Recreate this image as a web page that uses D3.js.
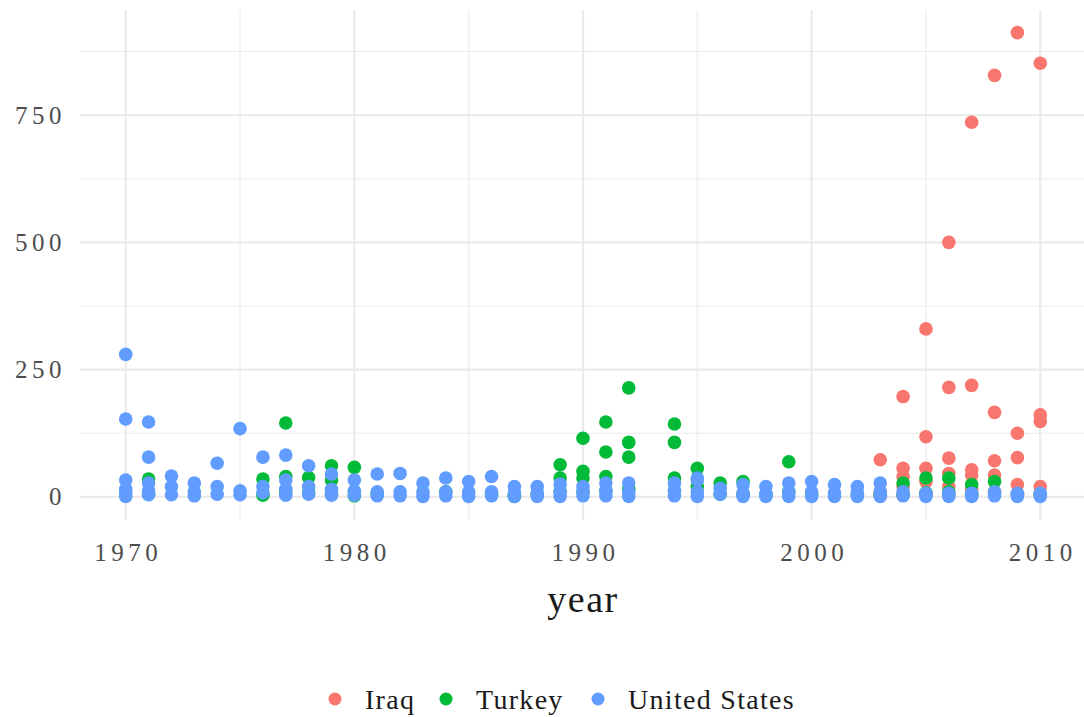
<!DOCTYPE html>
<html>
<head>
<meta charset="utf-8">
<script src="https://cdn.jsdelivr.net/npm/d3@7"></script>
<style>
  body { margin: 0; background: #fff; }
  text { font-family: "Liberation Serif", "DejaVu Serif", serif; }
</style>
</head>
<body>
<div id="chart"></div>
<script>
// data: [year, value]
var countries = ["Iraq", "Turkey", "United States"];
var colors = ["#F8766D", "#00BA38", "#619CFF"];

var iraq = [
  [2003,73],[2003,10],[2003,2],
  [2004,197],[2004,56],[2004,40],[2004,20],[2004,3],
  [2005,330],[2005,118],[2005,56],[2005,30],[2005,5],
  [2006,500],[2006,215],[2006,76],[2006,46],[2006,20],[2006,4],
  [2007,736],[2007,219],[2007,53],[2007,43],[2007,15],[2007,2],
  [2008,828],[2008,166],[2008,71],[2008,43],[2008,10],
  [2009,912],[2009,125],[2009,77],[2009,24],[2009,5],
  [2010,852],[2010,161],[2010,148],[2010,20],[2010,5]
];

var turkey = [
  [1971,35],[1971,5],[1976,35],[1976,3],[1977,145],[1977,40],[1977,10],
  [1978,38],[1978,8],[1979,61],[1979,33],[1979,5],[1980,58],[1980,10],[1980,2],
  [1981,5],[1984,10],[1986,5],[1987,4],[1987,1],[1988,5],
  [1989,63],[1989,37],[1989,10],[1990,115],[1990,50],[1990,37],[1990,10],
  [1991,147],[1991,88],[1991,40],[1991,12],[1992,214],[1992,107],[1992,78],[1992,15],
  [1994,143],[1994,107],[1994,37],[1994,12],[1995,56],[1995,20],
  [1996,27],[1996,5],[1997,30],[1997,5],[1998,5],[1999,69],[1999,10],
  [2000,5],[2002,3],[2003,5],[2004,27],[2004,4],[2005,37],[2005,8],
  [2006,37],[2006,10],[2007,24],[2007,5],[2008,30],[2008,8],[2009,5],[2010,5]
];

var unitedStates = [
  [1970,280],[1970,153],[1970,33],[1970,15],[1970,7],[1970,1],
  [1971,147],[1971,78],[1971,27],[1971,12],[1971,4],
  [1972,41],[1972,20],[1972,4],[1973,27],[1973,10],[1973,2],
  [1974,66],[1974,20],[1974,5],[1975,134],[1975,12],[1975,4],
  [1976,78],[1976,20],[1976,8],[1977,82],[1977,33],[1977,15],[1977,3],
  [1978,61],[1978,20],[1978,5],[1979,45],[1979,15],[1979,3],
  [1980,33],[1980,12],[1980,3],[1981,45],[1981,10],[1981,2],
  [1982,46],[1982,10],[1982,2],[1983,27],[1983,10],[1983,1],
  [1984,37],[1984,10],[1984,2],[1985,30],[1985,10],[1985,1],
  [1986,40],[1986,10],[1986,2],[1987,20],[1987,8],[1987,1],
  [1988,20],[1988,8],[1988,1],[1989,25],[1989,10],[1989,1],
  [1990,20],[1990,10],[1990,2],[1991,27],[1991,12],[1991,2],
  [1992,27],[1992,10],[1992,1],[1994,27],[1994,12],[1994,2],
  [1995,37],[1995,33],[1995,10],[1995,1],[1996,17],[1996,5],
  [1997,24],[1997,8],[1997,1],[1998,20],[1998,5],[1998,1],
  [1999,27],[1999,10],[1999,1],[2000,30],[2000,10],[2000,1],
  [2001,24],[2001,8],[2001,1],[2002,20],[2002,8],[2002,1],
  [2003,27],[2003,10],[2003,1],[2004,10],[2004,2],[2005,7],[2005,1],
  [2006,7],[2006,1],[2007,7],[2007,1],[2008,10],[2008,2],
  [2009,7],[2009,1],[2010,7],[2010,1]
];

var xMajor = [1970, 1980, 1990, 2000, 2010];
var xMinor = [1975, 1985, 1995, 2005];
var yMajor = [0, 250, 500, 750];
var yMinor = [125, 375, 625, 875];

var W = 1084, H = 717;
var panel = {left: 80, right: 1086, top: 10, bottom: 520};

var svg = d3.select("#chart")
  .append("svg")
    .attr("width", W)
    .attr("height", H);

var x = d3.scaleLinear()
  .domain([1968, 2012])
  .range([panel.left, panel.right]);

var y = d3.scaleLinear()
  .domain([-45.5, 956.5])
  .range([panel.bottom, panel.top]);

// grid
var grid = svg.append("g");
grid.selectAll(".ymin").data(yMinor).enter().append("line")
  .attr("x1", panel.left).attr("x2", panel.right)
  .attr("y1", d => y(d)).attr("y2", d => y(d))
  .attr("stroke", "#EBEBEB").attr("stroke-width", 1.1);
grid.selectAll(".xmin").data(xMinor).enter().append("line")
  .attr("y1", panel.top).attr("y2", panel.bottom)
  .attr("x1", d => x(d)).attr("x2", d => x(d))
  .attr("stroke", "#EBEBEB").attr("stroke-width", 1.1);
grid.selectAll(".ymaj").data(yMajor).enter().append("line")
  .attr("x1", panel.left).attr("x2", panel.right)
  .attr("y1", d => y(d)).attr("y2", d => y(d))
  .attr("stroke", "#EBEBEB").attr("stroke-width", 2.2);
grid.selectAll(".xmaj").data(xMajor).enter().append("line")
  .attr("y1", panel.top).attr("y2", panel.bottom)
  .attr("x1", d => x(d)).attr("x2", d => x(d))
  .attr("stroke", "#EBEBEB").attr("stroke-width", 2.2);

// axes (ticks hidden, labels only)
var axisY = svg.append("g")
  .attr("transform", "translate(" + panel.left + ",0)")
  .call(d3.axisLeft(y).tickValues(yMajor).tickSize(0).tickPadding(14));
axisY.select(".domain").remove();
axisY.selectAll(".tick text")
  .attr("font-size", 25)
  .attr("letter-spacing", 4.5)
  .attr("font-family", "Liberation Serif")
  .attr("fill", "#4D4D4D");

var axisX = svg.append("g")
  .attr("transform", "translate(0," + panel.bottom + ")")
  .call(d3.axisBottom(x).tickValues(xMajor).tickFormat(d3.format("d")).tickSize(0).tickPadding(23));
axisX.select(".domain").remove();
axisX.selectAll(".tick text")
  .attr("font-size", 25)
  .attr("letter-spacing", 4.5)
  .attr("dx", 2)
  .attr("font-family", "Liberation Serif")
  .attr("fill", "#4D4D4D");

// axis title
svg.append("text")
  .attr("x", x(1990))
  .attr("y", 612)
  .attr("text-anchor", "middle")
  .attr("font-size", 38)
  .attr("letter-spacing", 1.5)
  .attr("fill", "#1a1a1a")
  .text("year");

// points
var series = [iraq, turkey, unitedStates];
series.forEach(function(s, i) {
  svg.append("g").selectAll("circle")
    .data(s)
    .enter().append("circle")
      .attr("cx", d => x(d[0]))
      .attr("cy", d => y(d[1]))
      .attr("r", 6.8)
      .attr("fill", colors[i]);
});

// legend
var legendX = [335, 446, 598];
var legend = svg.append("g");
countries.forEach(function(c, i) {
  legend.append("circle")
    .attr("cx", legendX[i])
    .attr("cy", 699)
    .attr("r", 6.5)
    .attr("fill", colors[i]);
  legend.append("text")
    .attr("x", legendX[i] + 30)
    .attr("y", 709)
    .attr("font-size", 28)
    .attr("letter-spacing", 1.3)
    .attr("fill", "#1a1a1a")
    .text(c);
});
</script>
</body>
</html>
